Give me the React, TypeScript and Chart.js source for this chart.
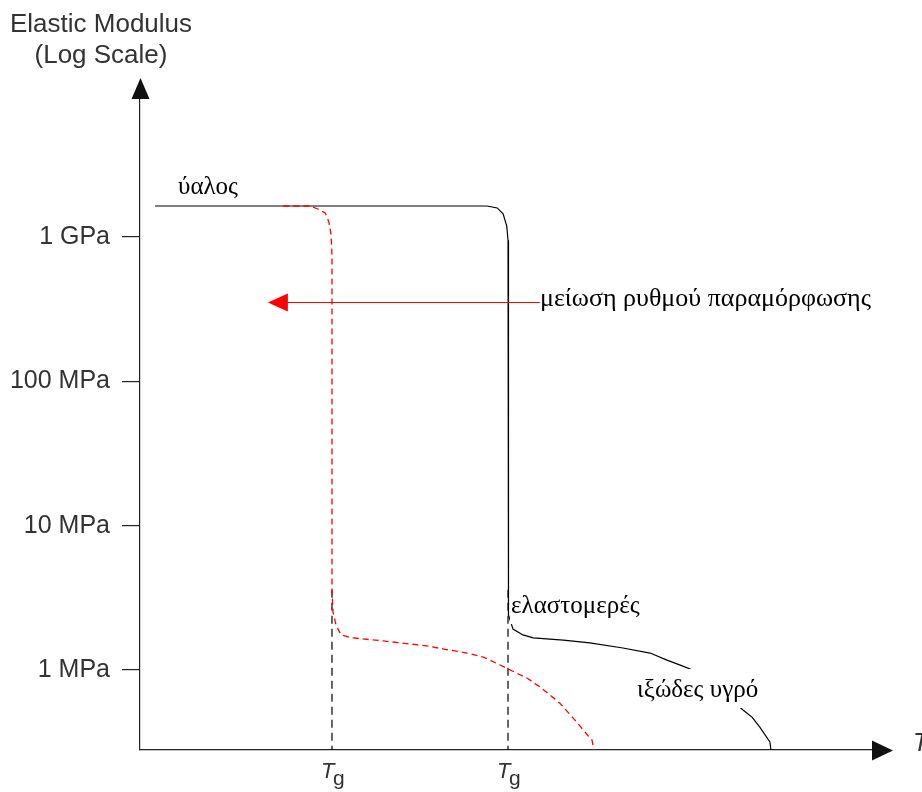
import React, { useEffect, useRef } from 'react';
import { Chart, registerables } from 'chart.js';

Chart.register(...registerables);

// ---- Data (temperature in arbitrary units 0..100, modulus in MPa) ----
const fastRateTemps = [2.04, 47.2, 48.6, 49.4, 49.9, 50.07, 50.07, 50.2, 50.75, 52.1, 53.5, 57.6, 61.2, 65.7, 69.4, 71.7, 73.5, 75.2, 78.9, 82.0, 83.3, 84.35, 85.7, 85.85];
const fastRateModulus = [1640, 1640, 1590, 1445, 1190, 950, 3.05, 2.4, 1.92, 1.75, 1.67, 1.61, 1.54, 1.42, 1.31, 1.17, 1.08, 1.0, 0.73, 0.53, 0.47, 0.40, 0.317, 0.279];

const slowRateTemps = [19.5, 23.1, 24.2, 25.2, 25.7, 26.0, 26.12, 26.12, 26.26, 26.67, 27.35, 28.84, 33.1, 35.4, 39.0, 41.2, 44.5, 46.7, 49.0, 50.07, 52.65, 54.4, 57.1, 59.5, 61.0, 61.5, 61.77];
const slowRateModulus = [1640, 1640, 1563, 1467, 1271, 1032, 750, 3.58, 2.52, 2.05, 1.75, 1.67, 1.59, 1.54, 1.47, 1.40, 1.31, 1.23, 1.083, 1.016, 0.88, 0.763, 0.591, 0.43, 0.349, 0.327, 0.279];

const tgValues = [26.12, 50.07];
const tgLineTop = 3.6;

const yTickValues = [1, 10, 100, 1000];
const yTickLabels = ['1 MPa', '10 MPa', '100 MPa', '1 GPa'];
const yMin = 0.279;
const yMax = 9185;
const xMin = 0;
const xMax = 100;

const rateArrowFrom = 54.4;
const rateArrowTo = 17.4;
const rateArrowModulus = 355;

const axisTitleLines = ['Elastic Modulus', '(Log Scale)'];
const xAxisLabel = 'T';

const labelTexts = ['ύαλος', 'μείωση ρυθμού παραμόρφωσης', 'ελαστομερές', 'ιξώδες υγρό'];
const labelTemps = [5.17, 54.42, 50.48, 67.62];
const labelModulus = [1986, 333, 2.48, 0.65];
const labelSizes = [25, 26, 25, 25];
const labelMasked = [false, false, true, true];

const SERIF = '"Liberation Serif", "Times New Roman", serif';
const SANS = '"Liberation Sans", Arial, sans-serif';

const annotPlugin = {
  id: 'annot',
  afterDraw(chart: any) {
    const ctx: CanvasRenderingContext2D = chart.ctx;
    const xs = chart.scales.x;
    const ys = chart.scales.y;
    const a = chart.chartArea;
    ctx.save();

    // axis arrowheads
    ctx.fillStyle = '#111';
    const ax = Math.round(a.left) + 0.5;
    ctx.beginPath();
    ctx.moveTo(ax, a.top - 20);
    ctx.lineTo(ax - 9, a.top + 1);
    ctx.lineTo(ax + 9, a.top + 1);
    ctx.closePath();
    ctx.fill();
    const ay = Math.round(a.bottom) + 0.5;
    ctx.beginPath();
    ctx.moveTo(a.right + 18, ay);
    ctx.lineTo(a.right - 3, ay - 10);
    ctx.lineTo(a.right - 3, ay + 10);
    ctx.closePath();
    ctx.fill();

    // y-axis title
    ctx.fillStyle = '#333';
    ctx.font = `26px ${SANS}`;
    ctx.textAlign = 'center';
    ctx.textBaseline = 'alphabetic';
    ctx.fillText(axisTitleLines[0], 101, 32);
    ctx.fillText(axisTitleLines[1], 101, 63);

    // x-axis label (cut by page edge)
    ctx.textAlign = 'left';
    ctx.font = `italic 25px ${SANS}`;
    ctx.fillText(xAxisLabel, a.right + 38, a.bottom + 1);

    // Tg labels
    tgValues.forEach((tg) => {
      const px = xs.getPixelForValue(tg);
      ctx.fillStyle = '#333';
      ctx.font = `italic 22px ${SANS}`;
      ctx.textAlign = 'left';
      ctx.fillText('T', px - 11, a.bottom + 28);
      ctx.font = `21px ${SANS}`;
      ctx.fillText('g', px + 1, a.bottom + 35);
    });

    // rate arrow
    const y = Math.round(ys.getPixelForValue(rateArrowModulus)) + 0.5;
    const x0 = xs.getPixelForValue(rateArrowFrom);
    const x1 = xs.getPixelForValue(rateArrowTo);
    ctx.strokeStyle = '#ff0000';
    ctx.lineWidth = 1.2;
    ctx.beginPath();
    ctx.moveTo(x0, y);
    ctx.lineTo(x1 + 15, y);
    ctx.stroke();
    ctx.fillStyle = '#ff0000';
    ctx.beginPath();
    ctx.moveTo(x1, y);
    ctx.lineTo(x1 + 20, y - 9);
    ctx.lineTo(x1 + 20, y + 9);
    ctx.closePath();
    ctx.fill();

    // text labels
    ctx.textAlign = 'left';
    labelTexts.forEach((t, i) => {
      ctx.font = `${labelSizes[i]}px ${SERIF}`;
      const lx = xs.getPixelForValue(labelTemps[i]);
      const ly = ys.getPixelForValue(labelModulus[i]);
      const w = ctx.measureText(t).width;
      if (labelMasked[i]) {
        ctx.fillStyle = '#ffffff';
        ctx.fillRect(lx - 1, ly - 28, w + 4, 39);
      }
      ctx.fillStyle = '#000';
      ctx.fillText(t, lx, ly);
    });

    ctx.restore();
  },
};

export default function App() {
  const canvasRef = useRef<HTMLCanvasElement | null>(null);

  useEffect(() => {
    const canvas = canvasRef.current;
    if (!canvas) return;
    const toPts = (xs: number[], ys: number[]) => xs.map((x, i) => ({ x, y: ys[i] }));
    const tgDatasets = tgValues.map((tg) => ({
      data: [{ x: tg, y: tgLineTop }, { x: tg, y: yMin }],
      borderColor: '#000',
      borderWidth: 1.2,
      borderDash: [8, 5],
      pointRadius: 0,
      showLine: true,
      tension: 0,
    }));
    const chart = new Chart(canvas, {
      type: 'scatter',
      data: {
        datasets: [
          {
            data: toPts(slowRateTemps, slowRateModulus),
            borderColor: '#ff0000',
            borderWidth: 1.3,
            borderDash: [6, 4],
            pointRadius: 0,
            showLine: true,
            tension: 0,
          },
          {
            data: toPts(fastRateTemps, fastRateModulus),
            borderColor: '#000',
            borderWidth: 1.2,
            pointRadius: 0,
            showLine: true,
            tension: 0,
          },
          ...tgDatasets,
        ],
      },
      options: {
        responsive: false,
        animation: false,
        devicePixelRatio: 1,
        layout: { padding: { top: 98, right: 47, left: 0, bottom: 0 } },
        plugins: { legend: { display: false }, tooltip: { enabled: false } },
        scales: {
          x: {
            type: 'linear',
            min: xMin,
            max: xMax,
            grid: { display: false },
            ticks: { display: false },
            border: { display: true, color: '#222', width: 1.2 },
            afterFit: (s: any) => { s.height = 42; },
          },
          y: {
            type: 'logarithmic',
            min: yMin,
            max: yMax,
            bounds: 'data',
            afterBuildTicks: (s: any) => { s.ticks = yTickValues.map((v) => ({ value: v })); },
            afterFit: (s: any) => { s.width = 140; },
            grid: { display: true, drawOnChartArea: false, drawTicks: true, tickLength: 18, color: '#222', lineWidth: 1.2 },
            border: { display: true, color: '#222', width: 1.2 },
            ticks: {
              padding: 12,
              color: '#333',
              font: { family: SANS, size: 25 },
              callback: (v: any) => {
                const i = yTickValues.indexOf(Number(v));
                return i >= 0 ? yTickLabels[i] : '';
              },
            },
          },
        },
      },
      plugins: [annotPlugin],
    } as any);
    return () => chart.destroy();
  }, []);

  return (
    <div style={{ position: 'absolute', left: 0, top: 0, width: 922, height: 792, background: '#fff' }}>
      <canvas ref={canvasRef} width={922} height={792} style={{ display: 'block', width: 922, height: 792 }} />
    </div>
  );
}
